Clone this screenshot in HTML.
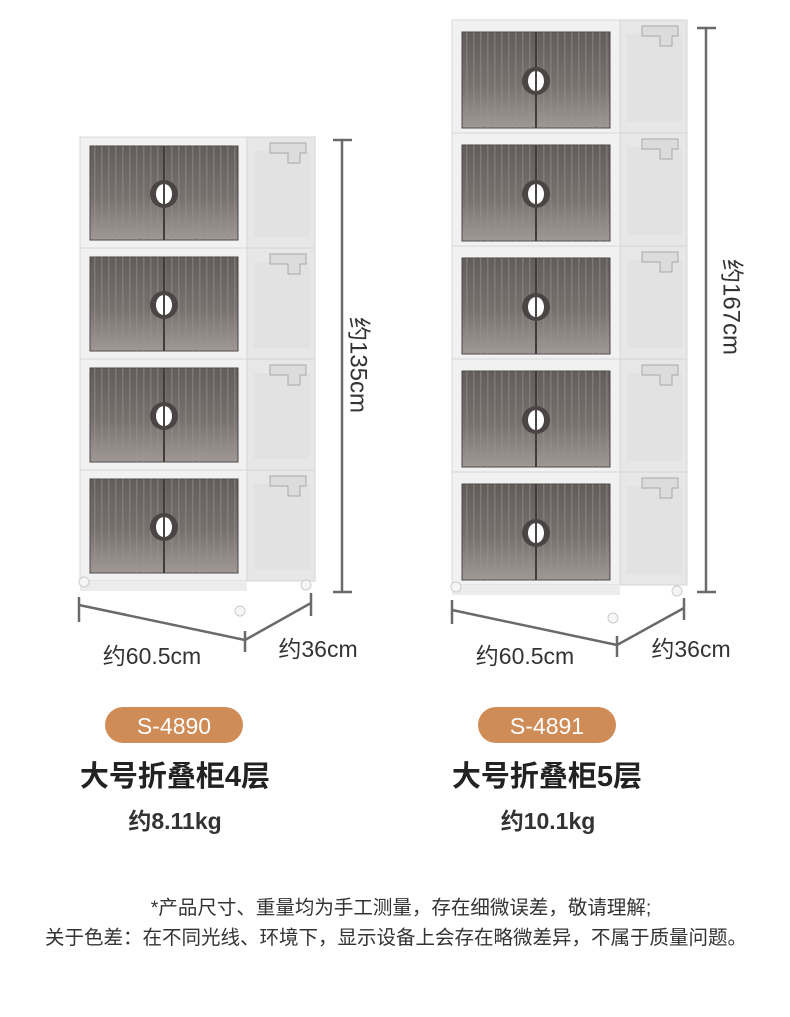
<!DOCTYPE html>
<html><head><meta charset="utf-8"><style>
html,body{margin:0;padding:0;background:#fff;}
body{width:790px;height:1017px;overflow:hidden;position:relative;font-family:"Liberation Sans","Noto Sans CJK SC",sans-serif;}
</style></head><body>
<svg width="790" height="1017" viewBox="0 0 790 1017" xmlns="http://www.w3.org/2000/svg" style="position:absolute;left:0;top:0">
<defs>
<linearGradient id="win" x1="0" y1="0" x2="0" y2="1">
<stop offset="0" stop-color="#625d5b"/><stop offset="0.55" stop-color="#77716e"/><stop offset="1" stop-color="#a09894"/>
</linearGradient>
<pattern id="ribs" width="7" height="10" patternUnits="userSpaceOnUse">
<rect x="0" width="1.5" height="10" fill="#9a9492" opacity="0.45"/>
</pattern>
<g id="tierL">
<rect x="0" y="0" width="167" height="111" fill="#f1f1f1" stroke="#d8d8d8"/>
<rect x="167" y="0" width="68" height="111" fill="#e7e7e7" stroke="#d6d6d6"/>
<rect x="174" y="14" width="56" height="86" fill="#e2e2e2"/>
<path d="M190 6 h36 v10 h-6 v10 h-12 v-10 h-18 z" fill="#dcdcdc" stroke="#a8a8a8"/>
<rect x="10" y="9" width="148" height="94" fill="url(#win)" stroke="#4c4847"/>
<rect x="10" y="9" width="148" height="94" fill="url(#ribs)"/>
<line x1="84" y1="9" x2="84" y2="103" stroke="#403c3b" stroke-width="2"/>
<circle cx="84" cy="57" r="14" fill="#4a4544"/>
<ellipse cx="84" cy="57" rx="8" ry="10" fill="#fff"/>
<line x1="84" y1="47" x2="84" y2="67" stroke="#4a4544" stroke-width="2"/>
</g>
<g id="tierR">
<rect x="0" y="0" width="168" height="113" fill="#f1f1f1" stroke="#d8d8d8"/>
<rect x="168" y="0" width="67" height="113" fill="#e7e7e7" stroke="#d6d6d6"/>
<rect x="175" y="14" width="55" height="88" fill="#e2e2e2"/>
<path d="M190 6 h36 v10 h-6 v10 h-12 v-10 h-18 z" fill="#dcdcdc" stroke="#a8a8a8"/>
<rect x="10" y="12" width="148" height="96" fill="url(#win)" stroke="#4c4847"/>
<rect x="10" y="12" width="148" height="96" fill="url(#ribs)"/>
<line x1="84" y1="12" x2="84" y2="108" stroke="#403c3b" stroke-width="2"/>
<circle cx="84" cy="61" r="14" fill="#4a4544"/>
<ellipse cx="84" cy="61" rx="8" ry="10" fill="#fff"/>
<line x1="84" y1="51" x2="84" y2="71" stroke="#4a4544" stroke-width="2"/>
</g>
</defs>

<use href="#tierL" x="80" y="137"/>
<use href="#tierL" x="80" y="248"/>
<use href="#tierL" x="80" y="359"/>
<use href="#tierL" x="80" y="470"/>
<rect x="80" y="581" width="167" height="10" fill="#ececec"/>
<circle cx="84" cy="582" r="5" fill="#f5f5f5" stroke="#ccc"/>
<circle cx="240" cy="611" r="5" fill="#f5f5f5" stroke="#ccc"/>
<circle cx="306" cy="585" r="5" fill="#f5f5f5" stroke="#ccc"/>

<use href="#tierR" x="452" y="20"/>
<use href="#tierR" x="452" y="133"/>
<use href="#tierR" x="452" y="246"/>
<use href="#tierR" x="452" y="359"/>
<use href="#tierR" x="452" y="472"/>
<rect x="452" y="585" width="168" height="10" fill="#ececec"/>
<circle cx="456" cy="587" r="5" fill="#f5f5f5" stroke="#ccc"/>
<circle cx="613" cy="618" r="5" fill="#f5f5f5" stroke="#ccc"/>
<circle cx="677" cy="591" r="5" fill="#f5f5f5" stroke="#ccc"/>

<g stroke="#6a6a6a" stroke-width="2.5" fill="none">
<line x1="333" y1="140" x2="352" y2="140"/><line x1="342" y1="140" x2="342" y2="592"/><line x1="333" y1="592" x2="352" y2="592"/>
<line x1="697" y1="28" x2="716" y2="28"/><line x1="706" y1="28" x2="706" y2="592"/><line x1="697" y1="592" x2="716" y2="592"/>
<line x1="79" y1="605" x2="245" y2="640"/><line x1="245" y1="640" x2="311" y2="603"/>
<line x1="79" y1="597" x2="79" y2="622"/><line x1="245" y1="631" x2="245" y2="652"/><line x1="311" y1="593" x2="311" y2="616"/>
<line x1="452" y1="610" x2="617" y2="645"/><line x1="617" y1="645" x2="684" y2="608"/>
<line x1="452" y1="600" x2="452" y2="624"/><line x1="617" y1="636" x2="617" y2="657"/><line x1="684" y1="598" x2="684" y2="620"/>
</g>

<g font-family="Liberation Sans, Noto Sans CJK SC, sans-serif" fill="#333">
<text x="357" y="365" font-size="24" transform="rotate(90 357 365)" text-anchor="middle" dominant-baseline="middle">约135cm</text>
<text x="730" y="307" font-size="24" transform="rotate(90 730 307)" text-anchor="middle" dominant-baseline="middle">约167cm</text>
<text x="152" y="664" font-size="23" text-anchor="middle">约60.5cm</text>
<text x="318" y="657" font-size="23" text-anchor="middle">约36cm</text>
<text x="525" y="664" font-size="23" text-anchor="middle">约60.5cm</text>
<text x="691" y="657" font-size="23" text-anchor="middle">约36cm</text>
</g>

<rect x="105" y="707" width="138" height="36" rx="18" fill="#d08c57"/>
<rect x="478" y="707" width="138" height="36" rx="18" fill="#d08c57"/>
<g font-family="Liberation Sans, sans-serif" fill="#fff" font-size="23" text-anchor="middle">
<text x="174" y="734">S-4890</text>
<text x="547" y="734">S-4891</text>
</g>
<g font-family="Liberation Sans, Noto Sans CJK SC, sans-serif" fill="#222" text-anchor="middle">
<text x="175" y="786" font-size="29" font-weight="bold">大号折叠柜4层</text>
<text x="547" y="786" font-size="29" font-weight="bold">大号折叠柜5层</text>
<text x="175" y="829" font-size="23" font-weight="bold" fill="#333">约8.11kg</text>
<text x="548" y="829" font-size="23" font-weight="bold" fill="#333">约10.1kg</text>
<text x="401" y="914" font-size="19.5" fill="#333">*产品尺寸、重量均为手工测量，存在细微误差，敬请理解;</text>
<text x="396" y="944" font-size="19.5" fill="#333">关于色差：在不同光线、环境下，显示设备上会存在略微差异，不属于质量问题。</text>
</g>
</svg>
</body></html>
